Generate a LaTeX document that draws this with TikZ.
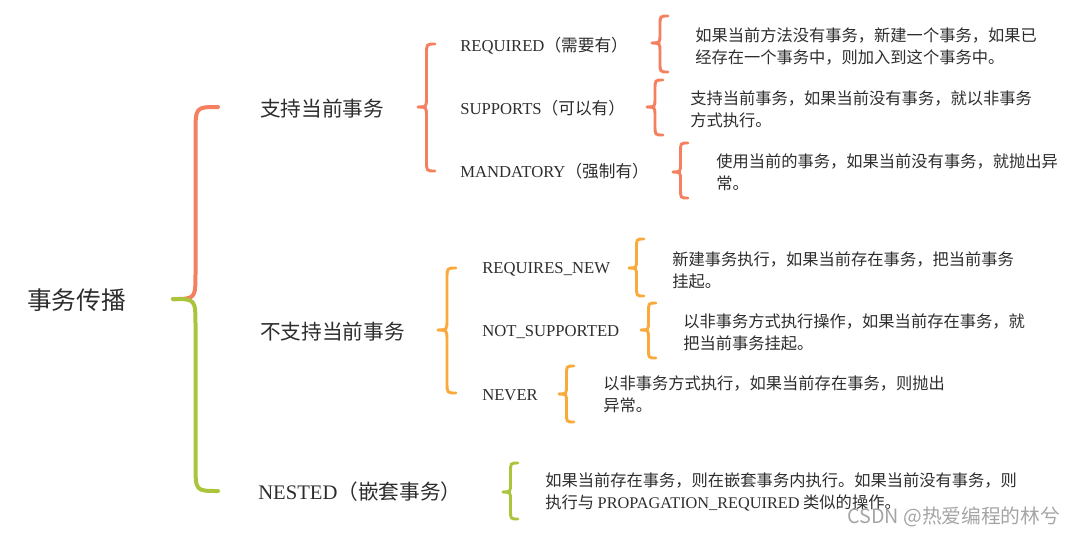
\documentclass[tikz,border=0pt]{standalone}
\usepackage{fontspec}
\setmainfont{Liberation Serif}
\newfontfamily\cjk{Noto Sans CJK SC}

\definecolor{coral}{RGB}{245,128,96}
\definecolor{amber}{RGB}{250,170,60}
\definecolor{lime}{RGB}{170,196,60}
\definecolor{ink}{RGB}{45,45,45}
\definecolor{wmgray}{RGB}{165,165,165}

% half of a curly brace: colour, end x, tip x, end y, tip y
\newcommand{\halfbrace}[5]{%
  \pgfmathsetmacro{\cmx}{(#2+#3)/2}%
  \pgfmathsetmacro{\crr}{0.6*(#2-#3)*sign(#5-#4)}%
  \pgfmathsetmacro{\cya}{#4+\crr}%
  \pgfmathsetmacro{\cyb}{#5-\crr}%
  \draw[curly,#1] (#2,#4) .. controls (\cmx,#4) .. (\cmx,\cya)
    -- (\cmx,\cyb) .. controls (\cmx,#5) .. (#3,#5);%
}
% whole brace: colour, end x, tip x, top y, tip y, bottom y
\newcommand{\curlybrace}[6]{%
  \halfbrace{#1}{#2}{#3}{#4}{#5}%
  \halfbrace{#1}{#2}{#3}{#6}{#5}%
}

\begin{document}
\begin{tikzpicture}[x=0.75pt,y=-0.75pt,
  every node/.style={inner sep=0pt,anchor=west,text=ink},
  lvl0/.style={font=\fontsize{18.5}{20}\selectfont\cjk},
  lvl1/.style={font=\fontsize{15.5}{18}\selectfont\cjk},
  lvl2/.style={font=\fontsize{12.5}{14}\selectfont},
  desc/.style={font=\fontsize{12.2}{16.5}\selectfont\cjk,align=left},
  curly/.style={line width=2.2pt,line cap=round}]
\useasboundingbox (0,0) rectangle (1073,536);

% root and first level
\node[lvl0] (root) at (27,300) {事务传播};
\node[lvl1] (sup) at (260,109) {支持当前事务};
\node[lvl1] (nsup) at (260,332) {不支持当前事务};
\node[lvl1] (nest) at (258,492) {\rmfamily NESTED\cjk（嵌套事务）};

% second level
\node[lvl2] (req) at (460,46) {REQUIRED{\cjk（需要有）}};
\node[lvl2] (sups) at (460,108) {SUPPORTS{\cjk（可以有）}};
\node[lvl2] (man) at (460,171) {MANDATORY{\cjk（强制有）}};
\node[lvl2] (rqn) at (482,269) {REQUIRES\_NEW};
\node[lvl2] (nsp) at (482,332) {NOT\_SUPPORTED};
\node[lvl2] (nev) at (482,395) {NEVER};

% descriptions
\node[desc] (dreq) at (695,46) {如果当前方法没有事务，新建一个事务，如果已\\经存在一个事务中，则加入到这个事务中。};
\node[desc] (dsups) at (690,109) {支持当前事务，如果当前没有事务，就以非事务\\方式执行。};
\node[desc] (dman) at (716,172.5) {使用当前的事务，如果当前没有事务，就抛出异\\常。};
\node[desc] (drqn) at (672,270) {新建事务执行，如果当前存在事务，把当前事务\\挂起。};
\node[desc] (dnsp) at (683,332.5) {以非事务方式执行操作，如果当前存在事务，就\\把当前事务挂起。};
\node[desc] (dnev) at (603,394.5) {以非事务方式执行，如果当前存在事务，则抛出\\异常。};
\node[desc] (dnest) at (545,492) {如果当前存在事务，则在嵌套事务内执行。如果当前没有事务，则\\执行与 {\rmfamily PROPAGATION\_REQUIRED} 类似的操作。};

\node[font=\fontsize{14.8}{18}\selectfont\cjk,text=wmgray] (wm) at (847,517) {CSDN @热爱编程的林兮};

% braces
\halfbrace{coral,line width=3pt}{218}{173}{107}{299}
\halfbrace{lime,line width=3pt}{218}{173}{491}{299}
\curlybrace{coral}{435}{418}{44}{107}{171}
\curlybrace{amber}{456}{438}{268}{330}{393}
\curlybrace{coral}{668}{652}{16}{43}{72}
\curlybrace{coral}{663}{647}{80}{107}{135}
\curlybrace{coral}{688}{673}{143}{172}{198}
\curlybrace{amber}{644}{629}{239}{268}{296}
\curlybrace{amber}{656}{641}{303}{330}{358}
\curlybrace{amber}{574}{559}{366}{394}{422}
\curlybrace{lime}{518}{503}{463}{492}{519}
\end{tikzpicture}
\end{document}
